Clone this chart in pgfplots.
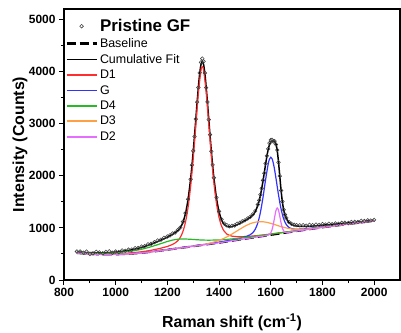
\documentclass[border=0pt]{standalone}
\usepackage{pgfplots}
\pgfplotsset{compat=1.18}
\usepackage{pgfplotstable}
\usepackage{fontspec}
\setmainfont{Liberation Sans}
\definecolor{cD1}{RGB}{255,45,45}
\definecolor{cG}{RGB}{50,50,255}
\definecolor{cD4}{RGB}{40,185,40}
\definecolor{cD3}{RGB}{255,160,70}
\definecolor{cD2}{RGB}{230,110,255}

% fitted components (each drawn on top of the baseline)
\pgfplotstableread{
x B D1 G D4 D3 D2
850 518 523 519 531 518 518
875 508 514 509 523 508 508
900 500 507 501 517 500 500
925 494 501 495 514 494 494
950 490 498 491 513 490 490
975 490 500 491 517 490 490
1000 492 503 493 523 492 492
1025 496 509 497 534 496 496
1050 502 517 503 548 502 502
1075 510 528 512 566 510 510
1100 520 542 522 590 520 520
1125 533 560 535 621 533 533
1150 548 583 550 658 548 548
1175 564 611 566 699 564 564
1200 580 644 583 739 580 580
1210 587 662 590 753 587 587
1220 594 683 597 766 594 594
1230 600 711 603 775 600 600
1240 607 752 610 782 607 607
1250 614 819 617 786 614 614
1260 621 929 625 787 621 621
1270 627 1109 631 786 627 627
1280 634 1392 638 784 635 634
1290 641 1798 645 781 642 641
1300 648 2331 652 778 649 648
1310 654 2957 659 774 656 654
1320 661 3586 666 771 664 661
1330 668 4025 674 768 673 668
1335 671 4091 677 767 677 671
1340 674 4031 680 766 681 674
1350 681 3606 687 765 691 681
1360 688 2991 695 764 702 688
1370 695 2378 703 765 714 695
1380 702 1859 710 766 728 702
1390 708 1466 717 767 742 708
1400 715 1197 725 769 760 715
1410 722 1030 733 772 779 722
1420 730 935 742 776 802 730
1430 737 882 751 779 827 737
1440 745 856 760 784 854 745
1450 752 841 769 788 882 752
1460 760 835 780 794 913 760
1470 767 831 790 798 943 767
1480 775 831 801 804 974 775
1490 782 831 813 809 1003 782
1500 790 834 827 816 1033 790
1510 797 836 844 821 1057 797
1520 805 840 868 828 1080 805
1530 812 844 905 833 1096 812
1540 820 849 975 840 1109 820
1550 827 853 1097 846 1116 827
1560 835 859 1300 853 1119 835
1570 842 864 1587 859 1117 842
1580 850 870 1926 866 1110 850
1590 857 876 2225 872 1100 860
1595 861 879 2319 876 1093 874
1600 865 882 2355 880 1086 904
1605 869 886 2327 883 1080 966
1610 872 888 2240 886 1071 1071
1615 876 892 2111 890 1064 1208
1620 880 895 1956 893 1056 1331
1625 883 898 1792 896 1047 1383
1630 887 901 1632 900 1040 1338
1635 890 904 1485 902 1031 1222
1640 894 907 1359 906 1024 1093
1645 898 911 1255 910 1017 995
1650 901 913 1171 913 1010 940
1655 905 917 1109 916 1004 918
1660 909 921 1064 920 999 912
1670 916 927 1009 927 988 916
1680 923 933 986 933 980 923
1690 930 940 977 940 975 930
1700 938 947 975 947 972 938
1725 956 964 980 964 972 956
1750 974 981 991 982 981 974
1775 992 998 1005 999 995 992
1800 1010 1016 1020 1016 1011 1010
1825 1026 1031 1034 1032 1026 1026
1850 1041 1046 1047 1046 1041 1041
1875 1057 1061 1062 1062 1057 1057
1900 1073 1077 1077 1078 1073 1073
1925 1088 1092 1092 1092 1088 1088
1950 1104 1107 1107 1108 1104 1104
1975 1119 1122 1122 1123 1119 1119
2000 1135 1138 1138 1139 1135 1135
}\comps

% cumulative fit
\pgfplotstableread{
x y
850 537
875 530
900 524
925 522
950 522
975 527
1000 535
1025 550
1050 568
1075 593
1100 625
1125 665
1150 712
1175 765
1200 822
1210 848
1220 875
1230 905
1240 944
1250 1003
1260 1104
1270 1274
1280 1546
1290 1943
1295 2190
1300 2467
1305 2767
1310 3083
1315 3403
1320 3704
1325 3961
1330 4135
1335 4198
1340 4135
1345 3962
1350 3706
1355 3406
1360 3088
1365 2773
1370 2474
1375 2200
1380 1957
1390 1568
1400 1306
1410 1148
1420 1065
1430 1027
1440 1019
1450 1024
1460 1041
1470 1061
1480 1086
1490 1111
1500 1139
1510 1167
1520 1200
1530 1243
1540 1314
1550 1432
1555 1519
1560 1626
1565 1754
1570 1901
1575 2060
1580 2222
1585 2376
1590 2505
1595 2596
1600 2647
1605 2666
1610 2668
1615 2660
1620 2611
1625 2484
1630 2262
1635 1984
1640 1713
1645 1496
1650 1342
1655 1244
1660 1179
1670 1105
1680 1068
1690 1047
1700 1035
1725 1028
1750 1030
1775 1040
1800 1052
1825 1062
1850 1072
1875 1084
1900 1095
1925 1106
1950 1119
1975 1132
2000 1146
}\cumfit

% measured spectrum
\pgfplotstableread{
x y
850 547
862 548
875 525
887 545
900 499
912 511
925 542
937 530
950 512
962 539
975 549
987 523
1000 547
1012 535
1025 566
1037 561
1050 584
1062 583
1075 611
1087 614
1100 643
1112 651
1125 685
1137 694
1150 725
1162 759
1175 773
1187 811
1200 835
1210 856
1220 893
1230 909
1240 958
1250 1009
1260 1119
1270 1282
1280 1551
1290 1933
1295 2205
1300 2477
1305 2752
1310 3088
1315 3413
1320 3694
1325 3976
1330 4175
1335 4248
1340 4195
1345 3972
1350 3691
1355 3416
1360 3078
1365 2788
1370 2469
1375 2210
1380 1962
1390 1583
1400 1316
1410 1163
1420 1085
1430 1052
1440 1029
1450 1042
1460 1046
1470 1081
1480 1096
1490 1126
1500 1144
1510 1179
1520 1208
1530 1258
1540 1324
1550 1447
1555 1529
1560 1638
1565 1759
1570 1911
1575 2050
1580 2237
1585 2381
1590 2515
1595 2626
1600 2687
1605 2691
1610 2658
1615 2665
1620 2601
1625 2494
1630 2257
1635 1994
1640 1718
1645 1506
1650 1350
1655 1254
1660 1191
1670 1113
1680 1079
1690 1061
1700 1053
1712 1050
1725 1053
1737 1043
1750 1058
1762 1052
1775 1066
1787 1057
1800 1073
1812 1064
1825 1080
1837 1071
1850 1087
1862 1079
1875 1097
1887 1099
1900 1096
1912 1113
1925 1115
1937 1112
1950 1135
1962 1132
1975 1144
1987 1141
2000 1154
}\raw

\begin{document}
\begin{tikzpicture}
\begin{axis}[
  scale only axis, width=336bp, height=271bp,
  xmin=800, xmax=2100, ymin=0, ymax=5200,
  xtick={800,1000,...,2000}, ytick={0,1000,...,5000},
  minor x tick num=1, minor y tick num=1,
  tick align=outside, xtick pos=bottom, ytick pos=left,
  major tick length=5bp, minor tick length=3bp,
  every tick/.style={black, line width=1bp},
  axis line style={line width=1.3bp},
  /pgf/number format/assume math mode=true,
  /pgf/number format/1000 sep={},
  ticklabel style={font=\bfseries\fontsize{12}{12}\selectfont},
  xlabel={\bfseries Raman shift (cm\textsuperscript{-1})},
  ylabel={\bfseries Intensity (Counts)},
  label style={font=\fontsize{16}{16}\selectfont},
  xlabel style={at={(axis description cs:0.5,-0.155)}, anchor=center},
  ylabel style={at={(axis description cs:-0.131,0.5)}, anchor=center},
  legend cell align=left,
  legend style={draw=none, fill=none, at={(axis description cs:0.003,0.970)}, anchor=north west,
    inner sep=0pt, row sep=1.3bp, font=\fontsize{12.5}{13}\selectfont, nodes={inner sep=2bp}},
  legend image code/.code={\draw[mark repeat=2,mark phase=2,#1] plot coordinates {(0bp,0bp) (15bp,0bp) (30bp,0bp)};},
  legend image post style={line width=1.7bp},
]
\addplot[only marks, mark=o, mark size=1.8bp, mark options={line width=0.55bp, draw=black!75}] table[x=x,y=y]{\raw};
\addlegendentry{\fontsize{17}{17}\selectfont\bfseries Pristine GF}
\addplot[black, line width=2bp, dash pattern=on 9bp off 4bp, legend image post style={line width=2.8bp}] table[x=x,y=B]{\comps};
\addlegendentry{Baseline}
\addplot[black, line width=1.5bp, smooth] table[x=x,y=y]{\cumfit};
\addlegendentry{Cumulative Fit}
\addplot[cD1, line width=1.2bp, smooth] table[x=x,y=D1]{\comps};
\addlegendentry{D1}
\addplot[cG, line width=1.2bp, smooth] table[x=x,y=G]{\comps};
\addlegendentry{G}
\addplot[cD4, line width=1.2bp, smooth] table[x=x,y=D4]{\comps};
\addlegendentry{D4}
\addplot[cD3, line width=1.2bp, smooth] table[x=x,y=D3]{\comps};
\addlegendentry{D3}
\addplot[cD2, line width=1.2bp, smooth] table[x=x,y=D2]{\comps};
\addlegendentry{D2}
\end{axis}
\pgfresetboundingbox
\path[use as bounding box] ([xshift=-64bp,yshift=-53bp]current axis.south west) rectangle ([xshift=1bp,yshift=9bp]current axis.north east);
\end{tikzpicture}
\end{document}
